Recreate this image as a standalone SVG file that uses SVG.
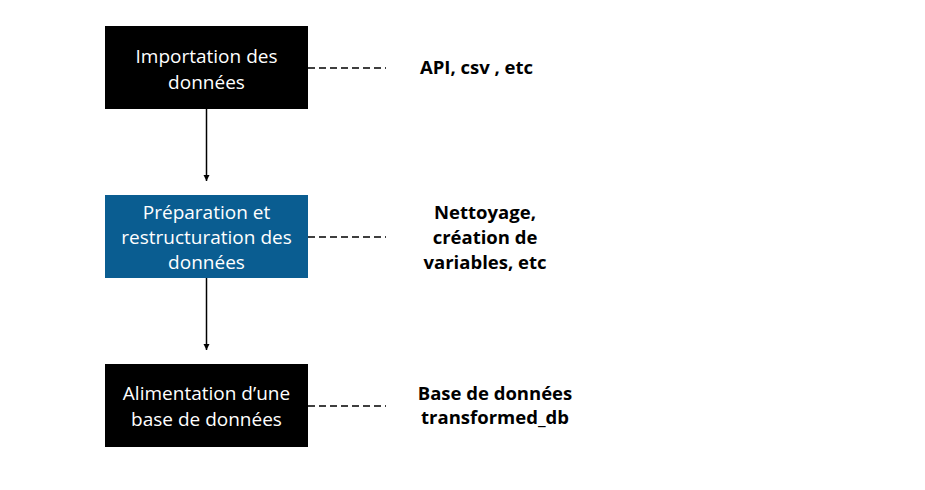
<svg xmlns="http://www.w3.org/2000/svg" width="925" height="490" viewBox="0 0 925 490">
<defs>
<style>
.box-dark{fill:#000000}
.box-blue{fill:#0a5d91}
.nt{font-family:"Open Sans","Liberation Sans",Arial,sans-serif;font-size:19px;fill:#ffffff;text-anchor:middle}
.lt{font-family:"Open Sans","Liberation Sans",Arial,sans-serif;font-size:18.5px;font-weight:bold;fill:#000000;text-anchor:middle}
.arrow{stroke:#000;stroke-width:1.5;fill:none}
.dash{stroke:#000;stroke-width:1.5;fill:none;stroke-dasharray:7 4}
</style>
<marker id="ah" markerWidth="8" markerHeight="8" refX="6" refY="4" orient="auto" markerUnits="userSpaceOnUse">
<path d="M0,1 L6,4 L0,7 Z" fill="#000"/>
</marker>
</defs>
<rect width="925" height="490" fill="#ffffff"/>
<g id="connectors">
<line class="arrow" x1="206.5" y1="109" x2="206.5" y2="181" marker-end="url(#ah)"/>
<line class="arrow" x1="206.5" y1="278" x2="206.5" y2="350" marker-end="url(#ah)"/>
<line class="dash" x1="308" y1="68" x2="386" y2="68"/>
<line class="dash" x1="308" y1="237" x2="386" y2="237"/>
<line class="dash" x1="308" y1="406" x2="386" y2="406"/>
</g>
<g id="node-import">
<rect class="box-dark" x="105" y="26" width="203" height="83"/>
<text class="nt" x="206.5" y="63">Importation des</text>
<text class="nt" x="206.5" y="89">données</text>
</g>
<g id="node-prep">
<rect class="box-blue" x="105" y="195" width="203" height="83"/>
<text class="nt" x="206.5" y="219">Préparation et</text>
<text class="nt" x="206.5" y="244">restructuration des</text>
<text class="nt" x="206.5" y="269">données</text>
</g>
<g id="node-base">
<rect class="box-dark" x="105" y="364" width="203" height="83"/>
<text class="nt" x="206.5" y="400">Alimentation d’une</text>
<text class="nt" x="206.5" y="426">base de données</text>
</g>
<g id="label-import">
<text class="lt" x="476.5" y="74">API, csv , etc</text>
</g>
<g id="label-prep">
<text class="lt" x="485" y="219">Nettoyage,</text>
<text class="lt" x="485" y="244">création de</text>
<text class="lt" x="485" y="269">variables, etc</text>
</g>
<g id="label-base">
<text class="lt" x="495" y="400">Base de données</text>
<text class="lt" x="495" y="424">transformed_db</text>
</g>
</svg>
